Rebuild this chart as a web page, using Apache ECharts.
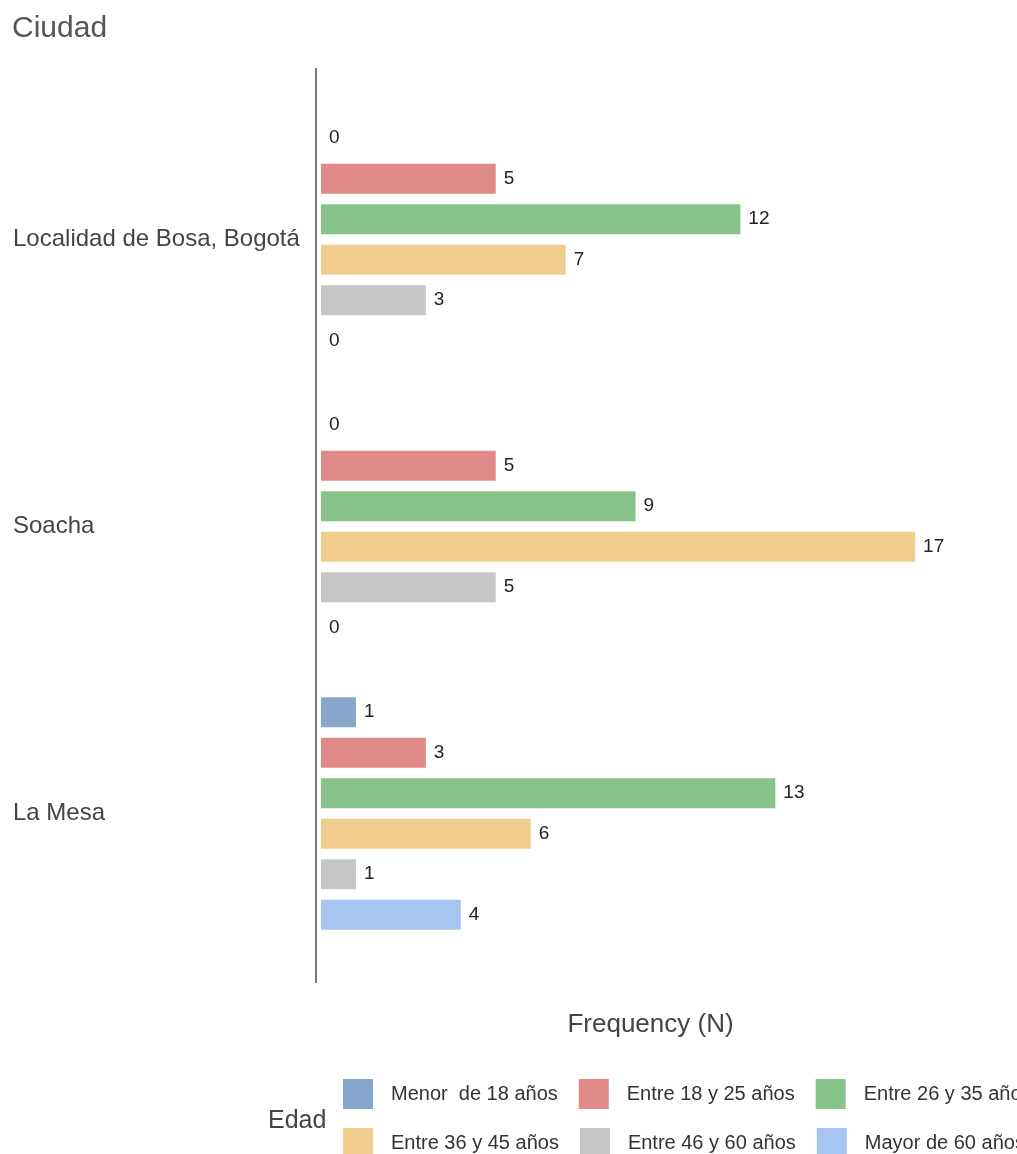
<!DOCTYPE html>
<html>
<head>
<meta charset="utf-8">
<script src="https://cdn.jsdelivr.net/npm/echarts@6/dist/echarts.min.js"></script>
<style>html,body{margin:0;padding:0;background:#fff;}#chart{width:1017px;height:1154px;}</style>
</head>
<body>
<div id="chart"></div>
<script>
var categories = ['Localidad de Bosa, Bogotá', 'Soacha', 'La Mesa'];
var seriesNames = ['Menor  de 18 años', 'Entre 18 y 25 años', 'Entre 26 y 35 años', 'Entre 36 y 45 años', 'Entre 46 y 60 años', 'Mayor de 60 años'];
var menor18 = [0, 0, 1];
var entre18_25 = [5, 5, 3];
var entre26_35 = [12, 9, 13];
var entre36_45 = [7, 17, 6];
var entre46_60 = [3, 5, 1];
var mayor60 = [0, 0, 4];
var seriesValues = [menor18, entre18_25, entre26_35, entre36_45, entre46_60, mayor60];
var colors = ['#88A6CC', '#E08A8A', '#88C48A', '#F1CD8D', '#C6C6C6', '#A6C5F1'];

var FONT = '"Liberation Sans", Arial, sans-serif';
var chart = echarts.init(document.getElementById('chart'));

var series = seriesNames.map(function (name, i) {
  return {
    type: 'bar',
    name: name,
    data: seriesValues[i],
    barWidth: 30,
    barGap: '35%',
    itemStyle: { color: colors[i] },
    label: {
      show: true, position: 'right', distance: 8,
      fontFamily: FONT, fontSize: 19, color: '#222'
    },
    emphasis: { disabled: true },
    animation: false
  };
});

function legendCfg(names, top) {
  return {
    data: names.map(function (n) { return { name: n, icon: 'rect' }; }),
    left: 343, top: top, width: 900, padding: 0,
    orient: 'horizontal',
    itemWidth: 30, itemHeight: 30, itemGap: 21,
    selectedMode: false,
    formatter: '{t|{name}}',
    textStyle: {
      fontFamily: FONT, fontSize: 20, color: '#333',
      rich: { t: { padding: [0, 0, 0, 13], fontFamily: FONT, fontSize: 20, color: '#333' } }
    }
  };
}

chart.setOption({
  animation: false,
  backgroundColor: '#fff',
  color: colors,
  title: [
    { text: 'Ciudad', left: 12, top: 14, padding: [0, 0, 0, 0], textStyle: { fontFamily: FONT, fontSize: 30, fontWeight: 'normal', color: '#555' } },
    { text: 'Edad', left: 268, top: 1109, padding: [0, 0, 0, 0], textStyle: { fontFamily: FONT, fontSize: 25, fontWeight: 'normal', color: '#444' } }
  ],
  grid: { left: 316, right: 32, top: 96, height: 861, containLabel: false },
  xAxis: {
    type: 'value', min: -0.143, max: 19.0,
    axisLine: { show: false }, axisTick: { show: false }, axisLabel: { show: false }, splitLine: { show: false },
    name: 'Frequency (N)', nameLocation: 'middle', nameGap: 55,
    nameTextStyle: { fontFamily: FONT, fontSize: 26, color: '#444' }
  },
  yAxis: {
    type: 'category', data: categories, inverse: true,
    axisLine: { show: false, onZero: false },
    axisTick: { show: false },
    axisLabel: { align: 'left', margin: 303, fontFamily: FONT, fontSize: 24, color: '#444' }
  },
  graphic: [
    { type: 'line', shape: { x1: 316, y1: 68, x2: 316, y2: 983 }, style: { stroke: '#777', lineWidth: 2 }, silent: true }
  ],
  legend: [legendCfg(seriesNames.slice(0, 3), 1079), legendCfg(seriesNames.slice(3, 6), 1128)],
  series: series
});
</script>
</body>
</html>
